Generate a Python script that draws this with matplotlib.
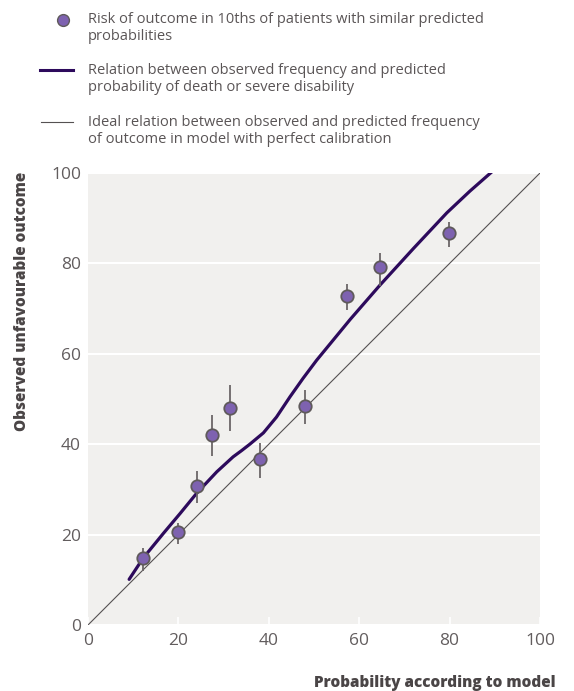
import numpy as np
import matplotlib.pyplot as plt
from matplotlib.lines import Line2D

plt.rcParams['font.family'] = ['Open Sans', 'DejaVu Sans']

# decile points (predicted vs observed) with error bars
pred = [12.2, 19.9, 24.1, 27.4, 31.4, 38.0, 48.0, 57.3, 64.6, 79.9]
obs = [14.8, 20.6, 30.8, 42.0, 48.0, 36.7, 48.5, 72.8, 79.2, 86.7]
obs_lo = [12.0, 18.0, 27.0, 37.4, 43.0, 32.5, 44.5, 69.7, 75.0, 83.6]
obs_hi = [17.0, 22.5, 34.0, 46.5, 53.0, 40.3, 52.0, 75.4, 82.3, 89.2]

# smoothed calibration curve
curve_x = [9.1, 12.2, 16.7, 20.4, 24.0, 28.5, 32.1, 34.0, 35.8, 38.8, 41.7, 44.7,
           47.6, 50.6, 54.3, 58.0, 64.6, 72.0, 79.4, 84.5, 89.4]
curve_y = [10.1, 14.8, 20.3, 24.7, 29.1, 33.9, 37.2, 38.6, 40.0, 42.5, 46.0, 50.5,
           54.6, 58.6, 63.1, 67.6, 75.2, 83.3, 91.2, 96.0, 100.3]

ticks = [0, 20, 40, 60, 80, 100]

txt = '#5a5556'
purple = '#2d0a5c'
dot = '#7e62b0'

fig = plt.figure(figsize=(5.74, 6.91), dpi=100)
ax = fig.add_axes([88 / 574, 66 / 691, 452 / 574, 452 / 691])
ax.set_facecolor('#f1f0ee')

ax.plot([0, 100], [0, 100], color='#555152', lw=0.8, zorder=2)
ax.plot(curve_x, curve_y, color=purple, lw=2.3, zorder=3, solid_capstyle='round',
        solid_joinstyle='round')
ax.vlines(pred, obs_lo, obs_hi, color='#6b6667', lw=1.3, zorder=4)
ax.scatter(pred, obs, s=80, color=dot, edgecolor='#5f5a5b', linewidth=1.3, zorder=5)

ax.set_xlim(0, 100)
ax.set_ylim(0, 100)
ax.set_xticks(ticks)
ax.set_yticks(ticks)
ax.yaxis.grid(True, color='white', lw=1.5)
ax.set_axisbelow(True)
for s in ax.spines.values():
    s.set_visible(False)
ax.tick_params(axis='x', direction='in', length=6, width=1.2, color='white', pad=6,
               labelsize=12.5, labelcolor='#625d5e')
ax.tick_params(axis='y', length=0, pad=5, labelsize=12.5, labelcolor='#625d5e')

fig.text(22 / 574, 1 - 172 / 691, 'Observed unfavourable outcome', rotation=90,
         ha='center', va='top', fontsize=11, fontweight='heavy', color='#4a4546')
fig.text(556 / 574, 1 - 683 / 691, 'Probability according to model',
         ha='right', va='center', fontsize=11, fontweight='heavy', color='#4a4546')

# legend drawn by hand above the plot
def fy(y):
    return 1 - y / 691

fig.add_artist(Line2D([63 / 574], [fy(20)], marker='o', markersize=8.5, color=dot,
                      markeredgecolor='#5f5a5b', markeredgewidth=1, linestyle='none'))
fig.add_artist(Line2D([40 / 574, 73 / 574], [fy(70), fy(70)], color=purple, lw=2.2))
fig.add_artist(Line2D([41 / 574, 73 / 574], [fy(122), fy(122)], color='#555152', lw=0.8))

legend_text = [
    'Risk of outcome in 10ths of patients with similar predicted\nprobabilities',
    'Relation between observed frequency and predicted\nprobability of death or severe disability',
    'Ideal relation between observed and predicted frequency\nof outcome in model with perfect calibration',
]
for t, y in zip(legend_text, [12, 63, 115]):
    fig.text(88 / 574, fy(y), t, ha='left', va='top', fontsize=10.5, color=txt,
             linespacing=1.2)

fig.savefig('out.png', dpi=100)
